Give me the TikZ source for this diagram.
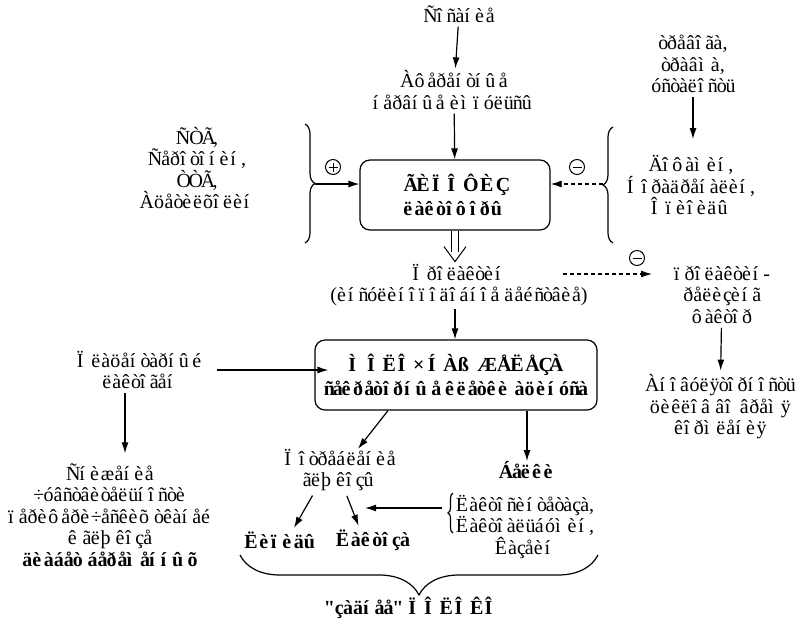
\documentclass[tikz,border=0pt]{standalone}
\usepackage{fontspec}
\setmainfont{Liberation Serif}[Ligatures=TeXOff]
\usetikzlibrary{arrows.meta,decorations.pathreplacing}
\makeatletter
\newcommand\cyrw[1]{\setbox0\hbox{\char\numexpr#1+848\relax}\hbox to\wd0{\char#1\hss}}
\count@=192
\loop
  \catcode\count@=13
  \begingroup\lccode`\~=\count@
  \lowercase{\endgroup\edef~}{\noexpand\cyrw{\the\count@}}%
  \advance\count@ by 1
\ifnum\count@<256 \repeat
\makeatother
\begin{document}
\begin{tikzpicture}[x=1pt,y=-1pt,
  every node/.style={font=\fontsize{20}{21.5}\selectfont, align=center, inner sep=0pt},
  arr/.style={line width=1.2pt, -{Latex[length=11pt,width=7pt]}},
  darr/.style={arr, dash pattern=on 4pt off 3pt},
  bx/.style={draw, line width=1.2pt, rounded corners=10pt, minimum height=70pt, font=\fontsize{20}{24}\selectfont\bfseries},
  bld/.style={font=\fontsize{20}{21.5}\selectfont\bfseries},
  sgn/.style={draw, circle, line width=1pt, minimum size=15pt},
  brc/.style={decorate, decoration={brace, amplitude=#1}, line width=1.2pt},
  dbl/.style={line width=1pt, line join=miter},
]
\useasboundingbox (0,0) rectangle (803,622);
% nodes
\node (sos) at (459,14) {Ñîñàíèå};
\node (aff) at (454,90) {Àôåðåíòíûå\\íåðâíûå èìïóëüñû};
\node[bx, minimum width=190pt] (hyp) at (455,195) {ÃÈÏÎÔÈÇ\\ëàêòîôîðû};
\node (str) at (693,64) {òðåâîãà,\\òðàâìà,\\óñòàëîñòü};
\node (lg) at (197,168) {ÑÒÃ,\\Ñåðîòîíèí,\\ÒÒÃ,\\Àöåòèëõîëèí};
\node (rg) at (691,185) {Äîôàìèí,\\Íîðàäðåíàëèí,\\Îïèîèäû};
\node (prl) at (459,285) {Ïðîëàêòèí\\(èíñóëèíîïîäîáíîå äåéñòâèå)};
\node (prf) at (722,295) {ïðîëàêòèí-\\ðåëèçèíã\\ôàêòîð};
\node (anov) at (720,407) {Àíîâóëÿòîðíîñòü\\öèêëîâ âî âðåìÿ\\êîðìëåíèÿ};
\node (plac) at (140,370) {Ïëàöåíòàðíûé\\ëàêòîãåí};
\node[bx, minimum width=282pt] (mol) at (456,375) {ÌÎËÎ×ÍÀß ÆÅËÅÇÀ\\ñåêðåòîðíûå êëåòêè àöèíóñà};
\node (sn) at (110,515) {Ñíèæåíèå\\÷óâñòâèòåëüíîñòè\\ïåðèôåðè÷åñêèõ òêàíåé\\ê ãëþêîçå\\\textbf{äèàáåò áåðåìåííûõ}};
\node (potr) at (340,470) {Ïîòðåáëåíèå\\ãëþêîçû};
\node[bld] (lip) at (282,540) {Ëèïèäû};
\node[bld] (lak) at (373,540) {Ëàêòîçà};
\node[bld] (bel) at (527,470) {Áåëêè};
\node (lst) at (525,527) {Ëàêòîñèíòåòàçà,\\Ëàêòîàëüáóìèí,\\Êàçåèí};
\node[bld] (mlk) at (412,608) {"çàäíåå" ÏÎËÎÊÎ};
% signs
\node[sgn, path picture={\draw[line width=1pt] ([xshift=3pt]path picture bounding box.west) -- ([xshift=-3pt]path picture bounding box.east); \draw[line width=1pt] ([yshift=-3pt]path picture bounding box.north) -- ([yshift=3pt]path picture bounding box.south);}] (pl) at (333,167) {};
\node[sgn, path picture={\draw[line width=1pt] ([xshift=3pt]path picture bounding box.west) -- ([xshift=-3pt]path picture bounding box.east);}] (mi1) at (577,167) {};
\node[sgn, path picture={\draw[line width=1pt] ([xshift=3pt]path picture bounding box.west) -- ([xshift=-3pt]path picture bounding box.east);}] (mi2) at (637,258) {};
% coordinates
\coordinate (lbT) at (305,124); \coordinate (lbB) at (305,243); \coordinate (lbTip) at (315,184);
\coordinate (rbT) at (613,127); \coordinate (rbB) at (613,243); \coordinate (rbTip) at (603,184);
\coordinate (sbT) at (453,493); \coordinate (sbB) at (453,533);
\coordinate (dS) at (563,274); \coordinate (dE) at (652,274);
\coordinate (aS) at (442,508); \coordinate (aE) at (365,508);
\coordinate (bbR) at (598,555); \coordinate (bbL) at (240,555);
% braces
\draw[brc=10pt] (lbT) -- (lbB);
\draw[brc=10pt] (rbB) -- (rbT);
\draw[brc=5pt] (sbB) -- (sbT);
\draw[brc=40pt] (bbR) -- (bbL);
% connectors
\draw[arr, shorten <=4pt, shorten >=2pt] (sos) -- (aff);
\draw[arr, shorten <=4pt] (aff) -- (hyp);
\draw[arr, shorten <=4pt, shorten >=16pt] (str.south) -- (str.south |- rg.north);
\draw[arr] (lbTip) -- (lbTip -| hyp.west);
\draw[darr] (rbTip) -- (rbTip -| hyp.east);
% double (implies) arrow hyp -> prl
\draw[dbl] (hyp.south) ++(-3.5,0) -- ++(0,21);
\draw[dbl] (hyp.south) ++(3.5,0) -- ++(0,21);
\draw[dbl] (hyp.south) ++(-11,16) -- ++(11,15) -- ++(11,-15);
\draw[darr] (dS) -- (dE);
\draw[arr, shorten <=3pt] (prl.south -| hyp.south) -- (mol.north -| hyp.south);
\draw[arr, shorten <=4pt, shorten >=4pt] (prf) -- (anov);
\draw[arr] ([xshift=14pt]plac.east) -- ([xshift=14pt]plac.east -| mol.west);
\draw[arr, shorten <=4pt, shorten >=10pt] ([xshift=-15pt]plac.south) -- ([xshift=-15pt]plac.south |- sn.north);
\draw[arr] ([xshift=-68pt]mol.south) -- ([xshift=18pt]potr.north);
\draw[arr] (mol.south -| bel) -- (bel.north);
\draw[arr, shorten <=5pt, shorten >=4pt] ([xshift=-25pt]potr.south) -- ([xshift=10pt]lip.north);
\draw[arr, shorten <=5pt, shorten >=4pt] ([xshift=5pt]potr.south) -- ([xshift=-13pt]lak.north);
\draw[arr] (aS) -- (aE);
\end{tikzpicture}
\end{document}
